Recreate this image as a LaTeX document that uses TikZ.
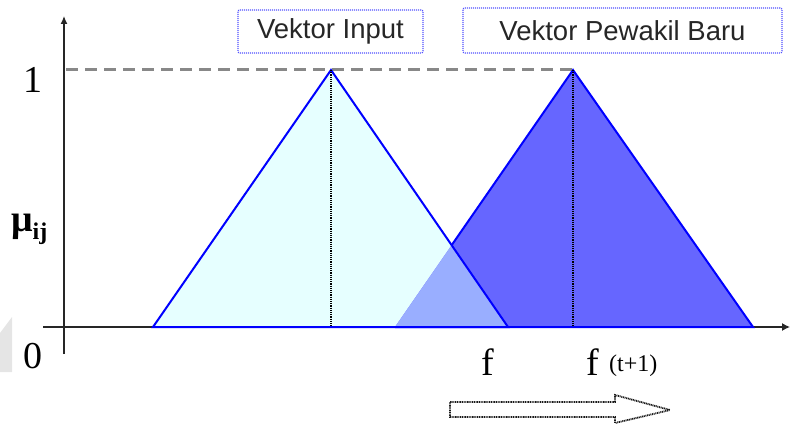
\documentclass[tikz,border=0pt]{standalone}
\usepackage{fontspec}
\setmainfont{Liberation Serif}
\newfontfamily\arialf{Liberation Sans}
\usetikzlibrary{arrows.meta}
\definecolor{lcyan}{HTML}{E6FFFF}
\definecolor{rblue}{HTML}{6666FF}
\definecolor{oblue}{HTML}{99AEFF}
\definecolor{boxblue}{HTML}{5050FF}
\definecolor{dgray}{HTML}{888888}
\begin{document}
\begin{tikzpicture}[x=1pt,y=-1pt,
  triline/.style={draw=blue, line width=2pt, line join=miter},
  axisline/.style={draw=black!85, line width=1.2pt},
  lbl/.style={font=\fontsize{38}{40}\selectfont, inner sep=0pt, anchor=base},
  vbox/.style={draw=boxblue, line width=1.4pt, dash pattern=on 1pt off 1pt, rounded corners=2pt,
    font=\arialf\fontsize{27.5}{30}\selectfont, text=black!85, inner sep=0pt},
  vdot/.style={draw=black, line width=1.8pt, dash pattern=on 1.2pt off 1pt},
  hollow/.style={draw=black!90, fill=white, line width=1.8pt, dash pattern=on 1pt off 0.7pt, line join=miter}]
\useasboundingbox (0,0) rectangle (790,425);
% faint watermark remnant
\fill[black!10] (0,333) -- (12,317) -- (12,372) -- (0,372) -- cycle;
% coordinates
\coordinate (L1) at (153,327);
\coordinate (A1) at (331,70);
\coordinate (R1) at (508,327);
\coordinate (L2) at (395,327);
\coordinate (A2) at (573,70);
\coordinate (R2) at (753,327);
\coordinate (X) at (intersection of A1--R1 and A2--L2);
\coordinate (yb) at (64,354);
\coordinate (yt) at (64,16);
\coordinate (xl) at (43,327);
\coordinate (xr) at (790,327);
\coordinate (dl) at (66,70);
\coordinate (B1) at (331,327);
\coordinate (B2) at (573,327);
% axes
\draw[axisline, -{Latex[length=8pt,width=7pt]}] (yb) -- (yt);
\draw[axisline, -{Latex[length=8pt,width=8pt]}] (xl) -- (xr);
% dashed level line
\draw[dgray, line width=3pt, dash pattern=on 12pt off 7pt] (dl) -- (A2);
% fills
\fill[lcyan] (L1) -- (A1) -- (R1) -- cycle;
\fill[rblue] (L2) -- (A2) -- (R2) -- cycle;
\fill[oblue] (L2) -- (X) -- (R1) -- cycle;
% outlines
\draw[triline] (L1) -- (A1) -- (R1) -- cycle;
\draw[triline] (X) -- (A2) -- (R2) -- (L2);
% dotted verticals
\draw[vdot] (A1) -- (B1);
\draw[vdot] (A2) -- (B2);
% labels
\node[lbl] (one) at (33,93) {1};
\node[lbl] (zero) at (33,368) {0};
\node[inner sep=0pt, anchor=base west, font=\fontsize{38}{40}\selectfont\bfseries] (mu) at (11,231) {μ\raisebox{-0.22em}{\fontsize{24}{26}\selectfont ij}};
\node[lbl] (f1) at (488,375) {f};
\node[lbl] (f2) at (593,375) {f};
\node[inner sep=0pt, anchor=base west, font=\fontsize{24}{26}\selectfont] (tp1) at (609,371) {(t+1)};
% boxes
\node[vbox, minimum width=185pt, minimum height=43pt] (vin) at (330.5,31.5) {Vektor Input};
\node[vbox, minimum width=319pt, minimum height=45pt] (vpb) at (622.5,30.5) {Vektor Pewakil Baru};
% hollow arrow
\draw[hollow] (450,402) -- (615,402) -- (615,395) -- (670,410) -- (615,423) -- (615,417) -- (450,417) -- cycle;
\end{tikzpicture}
\end{document}
